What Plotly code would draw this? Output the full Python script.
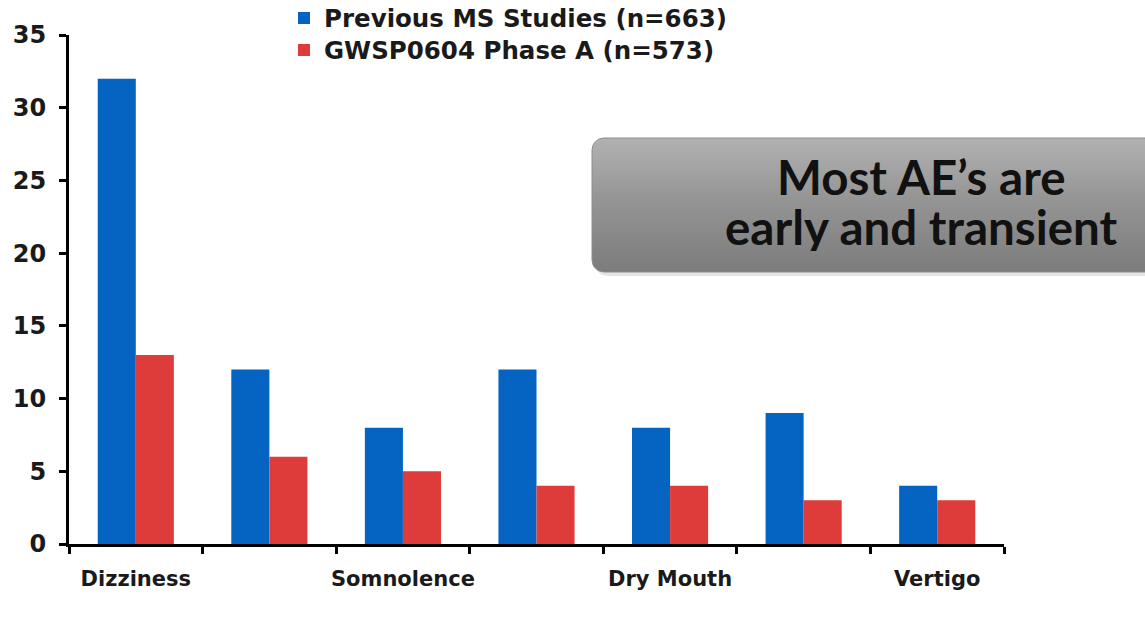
import math
import plotly.graph_objects as go

# Adverse events, percent of patients
tick_labels = ["Dizziness", "", "Somnolence", "", "Dry Mouth", "", "Vertigo"]
positions = list(range(len(tick_labels)))
previous_ms = [32, 12, 8, 12, 8, 9, 4]
phase_a = [13, 6, 5, 4, 4, 3, 3]
series_names = ["Previous MS Studies (n=663)", "GWSP0604 Phase A (n=573)"]
y_ticks = [0, 5, 10, 15, 20, 25, 30, 35]
callout_lines = ["Most AE\u2019s are", "early and transient"]

W, H = 1145, 619
ML, MT, MB = 69, 35, 75          # page margins (px)
X_END = 1004                     # right end of the bar axis (px)
PLOT_W, PLOT_H = W - ML, H - MT - MB
BOLD = "DejaVu Sans"


def paper_y(y_px):
    return (H - MB - y_px) / PLOT_H


def paper_x(x_px):
    return (x_px - ML) / PLOT_W


fig = go.Figure()
fig.add_trace(go.Bar(x=positions, y=previous_ms, name=series_names[0], legend="legend",
                     marker=dict(color="#0563C1", line=dict(width=0))))
fig.add_trace(go.Bar(x=positions, y=phase_a, name=series_names[1], legend="legend2",
                     marker=dict(color="#DE3B3B", line=dict(width=0))))

# Rounded callout box on a second subplot measured in page pixels (y up)
bx0, bx1, by_top, by_bot, r = 592, 1165, H - 138, H - 272, 12
px, py = [], []


def arc(cx, cy, a0, a1):
    for k in range(9):
        a = math.radians(a0 + (a1 - a0) * k / 8)
        px.append(cx + r * math.cos(a))
        py.append(cy + r * math.sin(a))


arc(bx1 - r, by_top - r, 0, 90)
arc(bx0 + r, by_top - r, 90, 180)
arc(bx0 + r, by_bot + r, 180, 270)
arc(bx1 - r, by_bot + r, 270, 360)
px.append(px[0])
py.append(py[0])

fig.add_trace(go.Scatter(x=[v + 3 for v in px], y=[v - 4 for v in py], mode="lines",
                         fill="toself", fillcolor="rgba(0,0,0,0.10)",
                         line=dict(width=0), hoverinfo="skip", showlegend=False,
                         xaxis="x2", yaxis="y2"))
fig.add_trace(go.Scatter(x=px, y=py, mode="lines", fill="toself",
                         fillgradient=dict(type="vertical",
                                           colorscale=[[0, "#7c7c7c"], [0.55, "#959595"],
                                                       [1, "#b2b2b2"]]),
                         line=dict(width=1, color="#8c8c8c"), hoverinfo="skip",
                         showlegend=False, xaxis="x2", yaxis="y2"))

for text, ymid in zip(callout_lines, [176, 226]):
    fig.add_annotation(x=921, y=H - ymid, xref="x2", yref="y2", text=text,
                       showarrow=False, xanchor="center", yanchor="middle", height=50,
                       font=dict(family="Lato", size=47.5, color="#111111", weight="bold"))

legend_style = dict(xanchor="left", yanchor="middle", bgcolor="rgba(0,0,0,0)",
                    itemwidth=30,
                    font=dict(family=BOLD, size=24.5, color="#1a1a1a", weight="bold"))

fig.update_layout(
    width=W, height=H,
    margin=dict(l=ML, r=0, t=MT, b=MB, pad=0, autoexpand=False),
    paper_bgcolor="white", plot_bgcolor="rgba(0,0,0,0)",
    barmode="group", bargap=0.43, bargroupgap=0,
    showlegend=True,
    legend=dict(x=paper_x(284), y=paper_y(18), **legend_style),
    legend2=dict(x=paper_x(284), y=paper_y(50), **legend_style),
    xaxis=dict(domain=[0, paper_x(X_END)], range=[-0.5, 6.5],
               tickmode="array", tickvals=positions, ticktext=tick_labels,
               ticks="", showgrid=False, zeroline=False,
               showline=True, linecolor="black", linewidth=3,
               tickfont=dict(family=BOLD, size=21, color="#1a1a1a", weight="bold"),
               ticklabelstandoff=14,
               minor=dict(tick0=-0.5, dtick=1, ticks="outside", ticklen=7,
                          tickwidth=3, tickcolor="black", showgrid=False)),
    yaxis=dict(range=[0, 35], tickvals=y_ticks, ticks="outside", ticklen=7, tickwidth=3,
               tickcolor="black", showgrid=False, zeroline=False,
               showline=True, linecolor="black", linewidth=3,
               tickfont=dict(family=BOLD, size=24, color="#1a1a1a", weight="bold"),
               ticklabelstandoff=8),
    xaxis2=dict(domain=[0, 1], range=[ML, W], visible=False, anchor="y2", fixedrange=True),
    yaxis2=dict(domain=[0, 1], range=[MB, H - MT], visible=False, anchor="x2",
                fixedrange=True),
)

fig.write_html("out.html")
